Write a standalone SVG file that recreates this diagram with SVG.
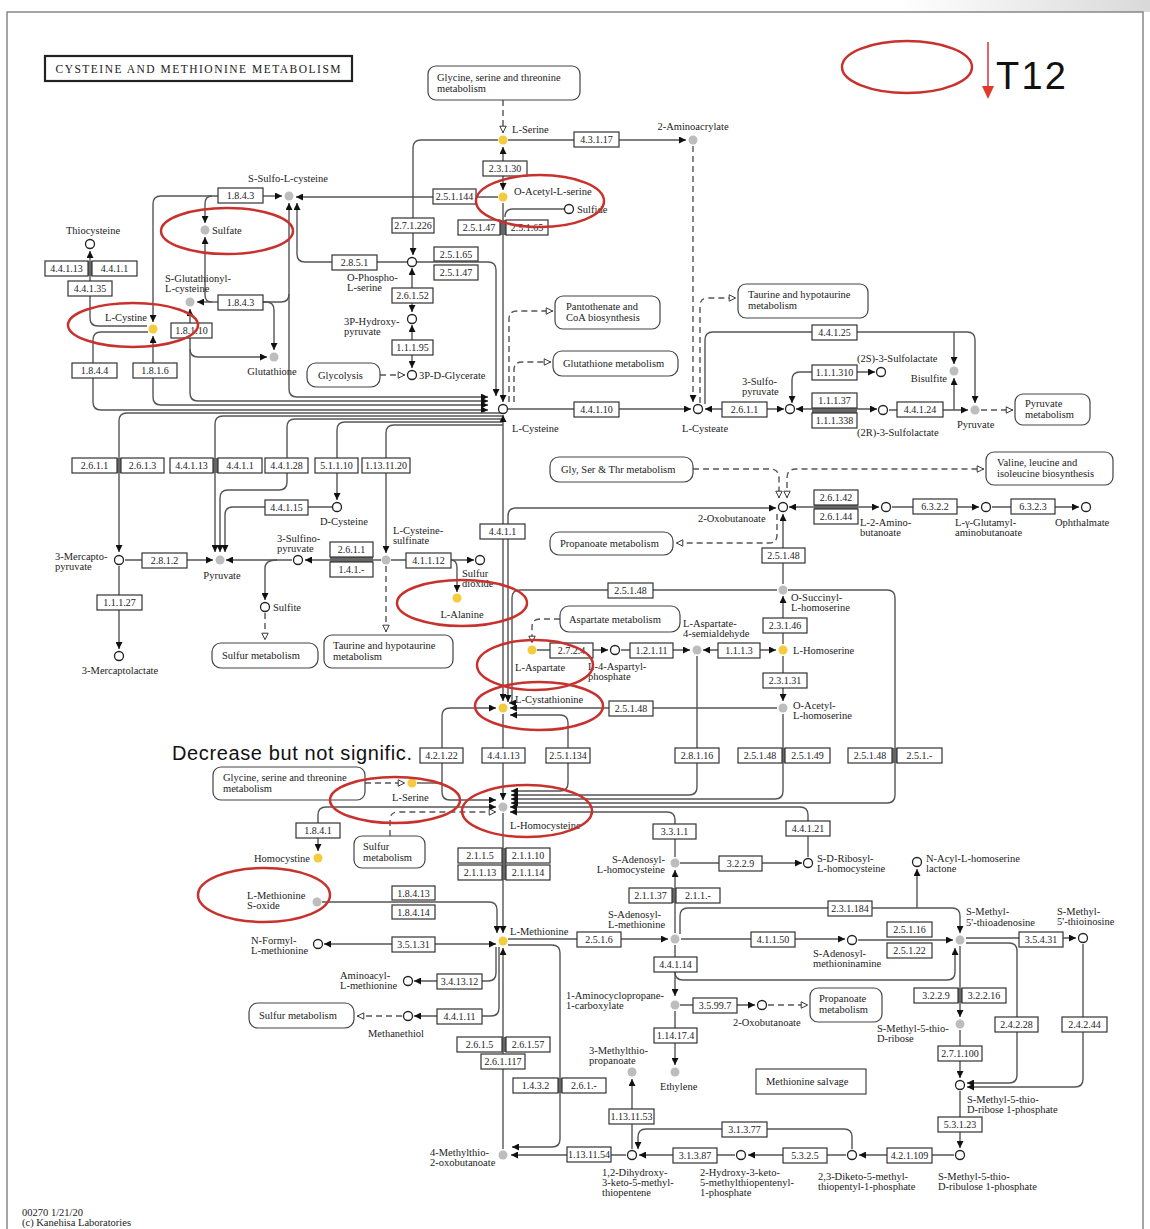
<svg xmlns="http://www.w3.org/2000/svg" width="1150" height="1229" viewBox="0 0 1150 1229">
<defs>
<marker id="a" viewBox="0 0 10 10" refX="10" refY="5" markerWidth="7" markerHeight="7" markerUnits="userSpaceOnUse" orient="auto-start-reverse"><path d="M0,0 L10,5 L0,10 z" fill="#111"/></marker>
<marker id="h" viewBox="0 0 10 10" refX="9.5" refY="5" markerWidth="8" markerHeight="8" markerUnits="userSpaceOnUse" orient="auto-start-reverse"><path d="M1,1 L9,5 L1,9 z" fill="#fff" stroke="#333" stroke-width="1.2"/></marker>
<linearGradient id="sh" x1="0" x2="1" y1="0" y2="0"><stop offset="0" stop-color="#fff"/><stop offset="1" stop-color="#d9d9d9"/></linearGradient>
<style>
.c path{fill:none;stroke:#555;stroke-width:1.4}
.c path.d{stroke-dasharray:6 4}
.ec rect{fill:#fff;stroke:#333;stroke-width:1.2}
.ec text{font-family:"Liberation Serif",serif;font-size:10px;fill:#222;text-anchor:middle}
.bar{fill:#666}
.t{font-family:"Liberation Serif",serif;font-size:10.5px;fill:#222}
.e{text-anchor:end}
.m{text-anchor:middle}
.map rect{fill:#fff;stroke:#444;stroke-width:1.2}
.map text{font-family:"Liberation Serif",serif;font-size:10.5px;fill:#222}
.y{fill:#f3cb3c}
.g{fill:#bdbdbd}
.o{fill:#fff;stroke:#222;stroke-width:1.3}
.re{fill:none;stroke:#c8322e;stroke-width:2.5}
</style>
</defs>
<rect x="0" y="0" width="1150" height="1229" fill="#fff"/>
<rect x="900" y="0" width="250" height="12" fill="url(#sh)"/>
<path d="M7,1229 V12 H1143 V1229" fill="none" stroke="#888" stroke-width="1.5"/>

<g id="title"><rect x="45" y="56" width="307" height="25" fill="#fff" stroke="#222" stroke-width="2.2"/><text x="198" y="73" font-family="Liberation Serif,serif" font-size="11.5" text-anchor="middle" textLength="285" fill="#222">CYSTEINE AND METHIONINE METABOLISM</text></g>

<g id="connectors" class="c">
<path class="d" d="M503,100 V133" marker-end="url(#h)"/>
<path d="M508,140 H686" marker-end="url(#a)"/>
<path d="M498,140 H421 Q413,140 413,148 V255" marker-end="url(#a)"/>
<path d="M503,147 V190" marker-start="url(#a)" marker-end="url(#a)"/>
<path d="M498,197 H296" marker-end="url(#a)"/>
<path d="M564,209 H513 Q505,209 505,217"/>
<path d="M503,203 V402" marker-end="url(#a)"/>
<path d="M417,262 H488 Q496,262 496,270 V396" marker-end="url(#a)"/>
<path d="M407,262 H305 Q297,262 297,254 V203" marker-end="url(#a)"/>
<path d="M412,268 V312" marker-start="url(#a)" marker-end="url(#a)"/>
<path d="M412,325 V368" marker-start="url(#a)" marker-end="url(#a)"/>
<path class="d" d="M380,375 H405" marker-end="url(#h)"/>
<path d="M289,203 V389 Q289,397 297,397 H488" marker-start="url(#a)" marker-end="url(#a)"/>
<path d="M263,302 H281 Q289,302 289,294"/>
<path d="M263,302 H266 Q274,302 274,310 V350" marker-end="url(#a)"/>
<path d="M218,302 H197" marker-end="url(#a)"/>
<path d="M212,302 Q205,302 205,295 V237" marker-end="url(#a)"/>
<path d="M263,196 H282" marker-end="url(#a)"/>
<path d="M218,196 H161 Q153,196 153,204 V322" marker-end="url(#a)"/>
<path d="M212,196 Q205,196 205,204 V223" marker-end="url(#a)"/>
<path d="M153,336 V397 Q153,405 161,405 H488" marker-start="url(#a)" marker-end="url(#a)"/>
<path d="M148,332 H101 Q93,332 93,340 V402 Q93,410 101,410 H488" marker-end="url(#a)"/>
<path d="M190,309 V393 Q190,401 198,401 H488" marker-start="url(#a)" marker-end="url(#a)"/>
<path d="M190,349 Q190,357 198,357 H267" marker-end="url(#a)"/>
<path d="M90,251 V318 Q90,326 98,326 H147" marker-start="url(#a)"/>
<path d="M503,413 H127 Q119,413 119,421 V552" marker-end="url(#a)"/>
<path d="M503,416 H223 Q215,416 215,424 V552" marker-end="url(#a)"/>
<path d="M503,419 H295 Q287,419 287,427 V482 Q287,490 279,490 H228 Q220,490 220,498 V552" marker-end="url(#a)"/>
<path d="M503,422 H345 Q337,422 337,430 V500" marker-end="url(#a)"/>
<path d="M503,425 H394 Q386,425 386,433 V553" marker-end="url(#a)"/>
<path d="M332,507 H233 Q225,507 225,515 V552" marker-end="url(#a)"/>
<path d="M125,560 H213" marker-end="url(#a)"/>
<path d="M292,560 H226" marker-end="url(#a)"/>
<path d="M381,560 H305" marker-end="url(#a)"/>
<path d="M277,560 Q265,560 265,568 V600" marker-end="url(#a)"/>
<path d="M119,566 V649" marker-end="url(#a)"/>
<path class="d" d="M265,613 V640" marker-end="url(#h)"/>
<path class="d" d="M386,566 V632" marker-end="url(#h)"/>
<path d="M391,560 H474" marker-end="url(#a)"/>
<path d="M451,560 Q457,560 457,568 V592" marker-end="url(#a)"/>
<path d="M508,409 H691" marker-end="url(#a)"/>
<path d="M784,409 H705" marker-start="url(#a)" marker-end="url(#a)"/>
<path class="d" d="M693,146 V402" marker-end="url(#a)"/>
<path class="d" d="M700,403 V306 Q700,298 708,298 H736" marker-end="url(#h)"/>
<path d="M705,404 V340 Q705,332 713,332 H967 Q975,332 975,340 V403" marker-end="url(#a)"/>
<path d="M954,332 V364" marker-end="url(#a)"/>
<path d="M792,403 V380 Q792,372 800,372 H875" marker-start="url(#a)" marker-end="url(#a)"/>
<path d="M796,409 H877" marker-start="url(#a)" marker-end="url(#a)"/>
<path d="M889,410 H968" marker-end="url(#a)"/>
<path d="M954,410 V378" marker-end="url(#a)"/>
<path class="d" d="M981,410 H1013" marker-end="url(#h)"/>
<path class="d" d="M509,402 V319 Q509,311 517,311 H553" marker-end="url(#h)"/>
<path class="d" d="M514,402 V370 Q514,362 522,362 H551" marker-end="url(#h)"/>
<path d="M503,415 V701" marker-start="url(#a)" marker-end="url(#a)"/>
<path d="M508,702 V516 Q508,508 516,508 H776" marker-start="url(#a)" marker-end="url(#a)"/>
<path d="M783,584 V514" marker-end="url(#a)"/>
<path d="M789,507 H879" marker-start="url(#a)" marker-end="url(#a)"/>
<path d="M892,507 H979" marker-end="url(#a)"/>
<path d="M992,507 H1079" marker-end="url(#a)"/>
<path class="d" d="M693,469 H770 Q779,469 779,478 V498" marker-end="url(#h)"/>
<path class="d" d="M787,498 V478 Q787,469 796,469 H984" marker-start="url(#h)" marker-end="url(#h)"/>
<path class="d" d="M777,514 V535 Q777,543 769,543 H676" marker-end="url(#h)"/>
<path d="M777,590 H520 Q512,590 512,598 V699 Q512,703 509,703" marker-end="url(#a)"/>
<path d="M788,590 H887 Q895,590 895,598 V795 Q895,803 887,803 H511" marker-end="url(#a)"/>
<path d="M777,708 H510" marker-end="url(#a)"/>
<path d="M783,714 V791 Q783,799 775,799 H511" marker-end="url(#a)"/>
<path d="M697,656 V787 Q697,795 689,795 H511" marker-end="url(#a)"/>
<path d="M510,715 H560 Q568,715 568,723 V783 Q568,791 560,791 H511" marker-start="url(#a)" marker-end="url(#a)"/>
<path d="M496,708 H450 Q442,708 442,716 V792 Q442,800 450,800 H496" marker-start="url(#a)" marker-end="url(#a)"/>
<path d="M417,783 H442"/>
<path class="d" d="M365,783 H405" marker-end="url(#h)"/>
<path d="M318,851 V815 Q318,807 326,807 H496" marker-start="url(#a)" marker-end="url(#a)"/>
<path class="d" d="M390,836 V820 Q390,812 398,812 H496" marker-end="url(#h)"/>
<path d="M503,714 V800" marker-end="url(#a)"/>
<path d="M510,812 H667 Q675,812 675,820 V857" marker-start="url(#a)"/>
<path d="M808,857 V815 Q808,807 800,807 H510" marker-end="url(#a)"/>
<path d="M680,863 H802" marker-end="url(#a)"/>
<path d="M675,933 V870" marker-end="url(#a)"/>
<path d="M503,813 V933" marker-end="url(#a)"/>
<path d="M322,902 H489 Q497,902 497,910 V933" marker-end="url(#a)"/>
<path d="M324,944 H496" marker-start="url(#a)" marker-end="url(#a)"/>
<path d="M496,947 V973 Q496,981 488,981 H414" marker-end="url(#a)"/>
<path d="M499,947 V1008 Q499,1016 491,1016 H414" marker-end="url(#a)"/>
<path class="d" d="M402,1016 H357" marker-end="url(#h)"/>
<path d="M503,1149 V948" marker-end="url(#a)"/>
<path d="M508,945 H552 Q560,945 560,953 V1139 Q560,1147 552,1147 H512" marker-end="url(#a)"/>
<path d="M626,1155 H511" marker-end="url(#a)"/>
<path d="M632,1149 V1079" marker-end="url(#a)"/>
<path d="M735,1155 H639" marker-end="url(#a)"/>
<path d="M846,1155 H748" marker-end="url(#a)"/>
<path d="M852,1149 V1137 Q852,1129 844,1129 H646 Q638,1129 638,1137 V1149" marker-end="url(#a)"/>
<path d="M954,1155 H859" marker-end="url(#a)"/>
<path d="M960,1091 V1148" marker-end="url(#a)"/>
<path d="M960,1030 V1078" marker-end="url(#a)"/>
<path d="M960,946 V1017" marker-end="url(#a)"/>
<path d="M966,943 H1009 Q1017,943 1017,951 V1075 Q1017,1083 1009,1083 H967" marker-end="url(#a)"/>
<path d="M1083,944 V1079 Q1083,1087 1075,1087 H967" marker-end="url(#a)"/>
<path d="M966,938 H1076" marker-end="url(#a)"/>
<path d="M680,934 V916 Q680,908 688,908 H952 Q960,908 960,916 V933" marker-end="url(#a)"/>
<path d="M917,908 V869" marker-end="url(#a)"/>
<path d="M508,939 H668" marker-end="url(#a)"/>
<path d="M681,939 H845" marker-end="url(#a)"/>
<path d="M675,972 Q675,980 683,980 H947 Q955,980 955,972 V948" marker-end="url(#a)"/>
<path d="M858,940 H953" marker-end="url(#a)"/>
<path d="M675,945 V996" marker-end="url(#a)"/>
<path d="M680,1005 H755" marker-end="url(#a)"/>
<path class="d" d="M768,1005 H808" marker-end="url(#h)"/>
<path d="M675,1011 V1065" marker-end="url(#a)"/>
<path class="d" d="M560,619 H540 Q532,619 532,627 V643" marker-end="url(#h)"/>
<path d="M537,650 H608" marker-end="url(#a)"/>
<path d="M621,650 H690" marker-end="url(#a)"/>
<path d="M703,650 H776" marker-start="url(#a)" marker-end="url(#a)"/>
<path d="M783,644 V596" marker-end="url(#a)"/>
<path d="M783,656 V701" marker-end="url(#a)"/>
</g>

<g id="bars">
<rect class="bar" x="88" y="261" width="4" height="15"/>
<rect class="bar" x="500" y="220" width="6" height="15"/>
<rect class="bar" x="117" y="458" width="4" height="15"/>
<rect class="bar" x="213" y="458" width="5" height="15"/>
<rect class="bar" x="814" y="505" width="44" height="4"/>
<rect class="bar" x="812" y="408" width="45" height="5"/>
<rect class="bar" x="330" y="557" width="43" height="5"/>
<rect class="bar" x="502" y="848" width="4" height="32"/>
<rect class="bar" x="502" y="1037" width="4" height="15"/>
<rect class="bar" x="558" y="1078" width="4" height="15"/>
<rect class="bar" x="958" y="988" width="4" height="15"/>
<rect class="bar" x="782" y="748" width="3" height="15"/>
<rect class="bar" x="892" y="748" width="5" height="15"/>
<rect class="bar" x="672" y="888" width="4" height="15"/>
</g>

<g id="enzymes">
<g id="e1" class="ec"><rect x="218" y="188" width="45" height="15"/><text x="240.5" y="199">1.8.4.3</text></g>
<g id="e2" class="ec"><rect x="218" y="295" width="45" height="15"/><text x="240.5" y="306">1.8.4.3</text></g>
<g id="e3" class="ec"><rect x="45" y="261" width="43" height="15"/><text x="66.5" y="272">4.4.1.13</text></g>
<g id="e4" class="ec"><rect x="92" y="261" width="45" height="15"/><text x="114.5" y="272">4.4.1.1</text></g>
<g id="e5" class="ec"><rect x="68" y="281" width="44" height="15"/><text x="90" y="292">4.4.1.35</text></g>
<g id="e6" class="ec"><rect x="332" y="255" width="45" height="15"/><text x="354.5" y="266">2.8.5.1</text></g>
<g id="e7" class="ec"><rect x="392" y="218" width="42" height="15"/><text x="413" y="229">2.7.1.226</text></g>
<g id="e8" class="ec"><rect x="483" y="161" width="44" height="15"/><text x="505" y="172">2.3.1.30</text></g>
<g id="e9" class="ec"><rect x="433" y="189" width="43" height="15"/><text x="454.5" y="200">2.5.1.144</text></g>
<g id="e10" class="ec"><rect x="458" y="220" width="42" height="15"/><text x="479" y="231">2.5.1.47</text></g>
<g id="e11" class="ec"><rect x="506" y="220" width="42" height="15"/><text x="527" y="231">2.5.1.65</text></g>
<g id="e12" class="ec"><rect x="434" y="247" width="44" height="14"/><text x="456" y="258">2.5.1.65</text></g>
<g id="e13" class="ec"><rect x="434" y="265" width="44" height="15"/><text x="456" y="276">2.5.1.47</text></g>
<g id="e14" class="ec"><rect x="392" y="288" width="41" height="15"/><text x="412.5" y="299">2.6.1.52</text></g>
<g id="e15" class="ec"><rect x="574" y="132" width="45" height="15"/><text x="596.5" y="143">4.3.1.17</text></g>
<g id="e16" class="ec"><rect x="392" y="340" width="41" height="15"/><text x="412.5" y="351">1.1.1.95</text></g>
<g id="e17" class="ec"><rect x="171" y="323" width="41" height="15"/><text x="191.5" y="334">1.8.1.10</text></g>
<g id="e18" class="ec"><rect x="72" y="363" width="45" height="15"/><text x="94.5" y="374">1.8.4.4</text></g>
<g id="e19" class="ec"><rect x="133" y="363" width="44" height="15"/><text x="155" y="374">1.8.1.6</text></g>
<g id="e20" class="ec"><rect x="574" y="402" width="45" height="15"/><text x="596.5" y="413">4.4.1.10</text></g>
<g id="e21" class="ec"><rect x="722" y="402" width="45" height="15"/><text x="744.5" y="413">2.6.1.1</text></g>
<g id="e22" class="ec"><rect x="812" y="325" width="45" height="15"/><text x="834.5" y="336">4.4.1.25</text></g>
<g id="e23" class="ec"><rect x="812" y="365" width="45" height="15"/><text x="834.5" y="376">1.1.1.310</text></g>
<g id="e24" class="ec"><rect x="812" y="393" width="45" height="15"/><text x="834.5" y="404">1.1.1.37</text></g>
<g id="e25" class="ec"><rect x="812" y="413" width="45" height="15"/><text x="834.5" y="424">1.1.1.338</text></g>
<g id="e26" class="ec"><rect x="897" y="402" width="46" height="15"/><text x="920" y="413">4.4.1.24</text></g>
<g id="e27" class="ec"><rect x="72" y="458" width="45" height="15"/><text x="94.5" y="469">2.6.1.1</text></g>
<g id="e28" class="ec"><rect x="121" y="458" width="43" height="15"/><text x="142.5" y="469">2.6.1.3</text></g>
<g id="e29" class="ec"><rect x="170" y="458" width="43" height="15"/><text x="191.5" y="469">4.4.1.13</text></g>
<g id="e30" class="ec"><rect x="218" y="458" width="44" height="15"/><text x="240" y="469">4.4.1.1</text></g>
<g id="e31" class="ec"><rect x="265" y="458" width="43" height="15"/><text x="286.5" y="469">4.4.1.28</text></g>
<g id="e32" class="ec"><rect x="315" y="458" width="43" height="15"/><text x="336.5" y="469">5.1.1.10</text></g>
<g id="e33" class="ec"><rect x="362" y="458" width="48" height="15"/><text x="386" y="469">1.13.11.20</text></g>
<g id="e34" class="ec"><rect x="265" y="500" width="43" height="15"/><text x="286.5" y="511">4.4.1.15</text></g>
<g id="e35" class="ec"><rect x="142" y="553" width="45" height="15"/><text x="164.5" y="564">2.8.1.2</text></g>
<g id="e36" class="ec"><rect x="330" y="542" width="43" height="15"/><text x="351.5" y="553">2.6.1.1</text></g>
<g id="e37" class="ec"><rect x="330" y="562" width="43" height="15"/><text x="351.5" y="573">1.4.1.-</text></g>
<g id="e38" class="ec"><rect x="97" y="595" width="45" height="15"/><text x="119.5" y="606">1.1.1.27</text></g>
<g id="e39" class="ec"><rect x="406" y="553" width="45" height="15"/><text x="428.5" y="564">4.1.1.12</text></g>
<g id="e40" class="ec"><rect x="480" y="524" width="45" height="15"/><text x="502.5" y="535">4.4.1.1</text></g>
<g id="e41" class="ec"><rect x="814" y="490" width="44" height="15"/><text x="836" y="501">2.6.1.42</text></g>
<g id="e42" class="ec"><rect x="814" y="509" width="44" height="15"/><text x="836" y="520">2.6.1.44</text></g>
<g id="e43" class="ec"><rect x="913" y="499" width="44" height="15"/><text x="935" y="510">6.3.2.2</text></g>
<g id="e44" class="ec"><rect x="1011" y="499" width="44" height="15"/><text x="1033" y="510">6.3.2.3</text></g>
<g id="e45" class="ec"><rect x="762" y="548" width="43" height="15"/><text x="783.5" y="559">2.5.1.48</text></g>
<g id="e46" class="ec"><rect x="608" y="583" width="45" height="15"/><text x="630.5" y="594">2.5.1.48</text></g>
<g id="e47" class="ec"><rect x="763" y="618" width="44" height="15"/><text x="785" y="629">2.3.1.46</text></g>
<g id="e48" class="ec"><rect x="550" y="643" width="43" height="15"/><text x="571.5" y="654">2.7.2.4</text></g>
<g id="e49" class="ec"><rect x="630" y="643" width="43" height="15"/><text x="651.5" y="654">1.2.1.11</text></g>
<g id="e50" class="ec"><rect x="718" y="643" width="42" height="15"/><text x="739" y="654">1.1.1.3</text></g>
<g id="e51" class="ec"><rect x="763" y="673" width="44" height="15"/><text x="785" y="684">2.3.1.31</text></g>
<g id="e52" class="ec"><rect x="609" y="701" width="44" height="15"/><text x="631" y="712">2.5.1.48</text></g>
<g id="e53" class="ec"><rect x="420" y="748" width="43" height="15"/><text x="441.5" y="759">4.2.1.22</text></g>
<g id="e54" class="ec"><rect x="482" y="748" width="43" height="15"/><text x="503.5" y="759">4.4.1.13</text></g>
<g id="e55" class="ec"><rect x="546" y="748" width="44" height="15"/><text x="568" y="759">2.5.1.134</text></g>
<g id="e56" class="ec"><rect x="675" y="748" width="44" height="15"/><text x="697" y="759">2.8.1.16</text></g>
<g id="e57" class="ec"><rect x="738" y="748" width="44" height="15"/><text x="760" y="759">2.5.1.48</text></g>
<g id="e58" class="ec"><rect x="785" y="748" width="45" height="15"/><text x="807.5" y="759">2.5.1.49</text></g>
<g id="e59" class="ec"><rect x="848" y="748" width="44" height="15"/><text x="870" y="759">2.5.1.48</text></g>
<g id="e60" class="ec"><rect x="897" y="748" width="45" height="15"/><text x="919.5" y="759">2.5.1.-</text></g>
<g id="e61" class="ec"><rect x="296" y="823" width="44" height="15"/><text x="318" y="834">1.8.4.1</text></g>
<g id="e62" class="ec"><rect x="653" y="824" width="43" height="15"/><text x="674.5" y="835">3.3.1.1</text></g>
<g id="e63" class="ec"><rect x="786" y="821" width="44" height="15"/><text x="808" y="832">4.4.1.21</text></g>
<g id="e64" class="ec"><rect x="458" y="848" width="44" height="15"/><text x="480" y="859">2.1.1.5</text></g>
<g id="e65" class="ec"><rect x="506" y="848" width="44" height="15"/><text x="528" y="859">2.1.1.10</text></g>
<g id="e66" class="ec"><rect x="458" y="865" width="44" height="15"/><text x="480" y="876">2.1.1.13</text></g>
<g id="e67" class="ec"><rect x="506" y="865" width="44" height="15"/><text x="528" y="876">2.1.1.14</text></g>
<g id="e68" class="ec"><rect x="719" y="856" width="43" height="15"/><text x="740.5" y="867">3.2.2.9</text></g>
<g id="e69" class="ec"><rect x="392" y="886" width="43" height="14"/><text x="413.5" y="897">1.8.4.13</text></g>
<g id="e70" class="ec"><rect x="392" y="905" width="43" height="14"/><text x="413.5" y="916">1.8.4.14</text></g>
<g id="e71" class="ec"><rect x="629" y="888" width="43" height="15"/><text x="650.5" y="899">2.1.1.37</text></g>
<g id="e72" class="ec"><rect x="676" y="888" width="44" height="15"/><text x="698" y="899">2.1.1.-</text></g>
<g id="e73" class="ec"><rect x="828" y="901" width="44" height="15"/><text x="850" y="912">2.3.1.184</text></g>
<g id="e74" class="ec"><rect x="392" y="937" width="43" height="15"/><text x="413.5" y="948">3.5.1.31</text></g>
<g id="e75" class="ec"><rect x="577" y="932" width="44" height="15"/><text x="599" y="943">2.5.1.6</text></g>
<g id="e76" class="ec"><rect x="751" y="932" width="44" height="15"/><text x="773" y="943">4.1.1.50</text></g>
<g id="e77" class="ec"><rect x="887" y="922" width="45" height="15"/><text x="909.5" y="933">2.5.1.16</text></g>
<g id="e78" class="ec"><rect x="887" y="943" width="45" height="15"/><text x="909.5" y="954">2.5.1.22</text></g>
<g id="e79" class="ec"><rect x="1019" y="932" width="44" height="15"/><text x="1041" y="943">3.5.4.31</text></g>
<g id="e80" class="ec"><rect x="654" y="957" width="43" height="15"/><text x="675.5" y="968">4.4.1.14</text></g>
<g id="e81" class="ec"><rect x="437" y="974" width="45" height="15"/><text x="459.5" y="985">3.4.13.12</text></g>
<g id="e82" class="ec"><rect x="693" y="998" width="44" height="15"/><text x="715" y="1009">3.5.99.7</text></g>
<g id="e83" class="ec"><rect x="914" y="988" width="44" height="15"/><text x="936" y="999">3.2.2.9</text></g>
<g id="e84" class="ec"><rect x="962" y="988" width="44" height="15"/><text x="984" y="999">3.2.2.16</text></g>
<g id="e85" class="ec"><rect x="437" y="1009" width="45" height="15"/><text x="459.5" y="1020">4.4.1.11</text></g>
<g id="e86" class="ec"><rect x="995" y="1017" width="43" height="15"/><text x="1016.5" y="1028">2.4.2.28</text></g>
<g id="e87" class="ec"><rect x="1062" y="1017" width="45" height="15"/><text x="1084.5" y="1028">2.4.2.44</text></g>
<g id="e88" class="ec"><rect x="654" y="1028" width="43" height="15"/><text x="675.5" y="1039">1.14.17.4</text></g>
<g id="e89" class="ec"><rect x="457" y="1037" width="45" height="15"/><text x="479.5" y="1048">2.6.1.5</text></g>
<g id="e90" class="ec"><rect x="506" y="1037" width="44" height="15"/><text x="528" y="1048">2.6.1.57</text></g>
<g id="e91" class="ec"><rect x="481" y="1054" width="44" height="15"/><text x="503" y="1065">2.6.1.117</text></g>
<g id="e92" class="ec"><rect x="938" y="1046" width="44" height="15"/><text x="960" y="1057">2.7.1.100</text></g>
<g id="e93" class="ec"><rect x="513" y="1078" width="45" height="15"/><text x="535.5" y="1089">1.4.3.2</text></g>
<g id="e94" class="ec"><rect x="562" y="1078" width="44" height="15"/><text x="584" y="1089">2.6.1.-</text></g>
<g id="e95" class="ec"><rect x="609" y="1109" width="45" height="15"/><text x="631.5" y="1120">1.13.11.53</text></g>
<g id="e96" class="ec"><rect x="722" y="1122" width="45" height="15"/><text x="744.5" y="1133">3.1.3.77</text></g>
<g id="e97" class="ec"><rect x="938" y="1117" width="44" height="15"/><text x="960" y="1128">5.3.1.23</text></g>
<g id="e98" class="ec"><rect x="567" y="1147" width="44" height="15"/><text x="589" y="1158">1.13.11.54</text></g>
<g id="e99" class="ec"><rect x="673" y="1148" width="44" height="15"/><text x="695" y="1159">3.1.3.87</text></g>
<g id="e100" class="ec"><rect x="783" y="1148" width="44" height="15"/><text x="805" y="1159">5.3.2.5</text></g>
<g id="e101" class="ec"><rect x="887" y="1148" width="45" height="15"/><text x="909.5" y="1159">4.2.1.109</text></g>
</g>

<g id="maps">
<g id="m1" class="map"><rect x="428" y="66" width="152" height="34" rx="8"/><text x="437" y="81">Glycine, serine and threonine</text><text x="437" y="92">metabolism</text></g>
<g id="m2" class="map"><rect x="555" y="296" width="105" height="33" rx="8"/><text x="566" y="310">Pantothenate and</text><text x="566" y="321">CoA biosynthesis</text></g>
<g id="m3" class="map"><rect x="738" y="284" width="130" height="34" rx="8"/><text x="748" y="298">Taurine and hypotaurine</text><text x="748" y="309">metabolism</text></g>
<g id="m4" class="map"><rect x="553" y="351" width="125" height="25" rx="9"/><text x="563" y="367">Glutathione metabolism</text></g>
<g id="m5" class="map"><rect x="307" y="363" width="73" height="24" rx="9"/><text x="318" y="379">Glycolysis</text></g>
<g id="m6" class="map"><rect x="1015" y="394" width="75" height="31" rx="8"/><text x="1025" y="407">Pyruvate</text><text x="1025" y="418">metabolism</text></g>
<g id="m7" class="map"><rect x="550" y="457" width="143" height="25" rx="9"/><text x="561" y="473">Gly, Ser &amp; Thr metabolism</text></g>
<g id="m8" class="map"><rect x="986" y="452" width="127" height="33" rx="8"/><text x="997" y="466">Valine, leucine and</text><text x="997" y="477">isoleucine biosynthesis</text></g>
<g id="m9" class="map"><rect x="550" y="532" width="123" height="23" rx="9"/><text x="560" y="547">Propanoate metabolism</text></g>
<g id="m10" class="map"><rect x="212" y="643" width="106" height="25" rx="9"/><text x="222" y="659">Sulfur metabolism</text></g>
<g id="m11" class="map"><rect x="324" y="635" width="129" height="33" rx="8"/><text x="333" y="649">Taurine and hypotaurine</text><text x="333" y="660">metabolism</text></g>
<g id="m12" class="map"><rect x="560" y="606" width="120" height="26" rx="9"/><text x="569" y="623">Aspartate metabolism</text></g>
<g id="m13" class="map"><rect x="213" y="767" width="152" height="33" rx="8"/><text x="223" y="781">Glycine, serine and threonine</text><text x="223" y="792">metabolism</text></g>
<g id="m14" class="map"><rect x="354" y="836" width="71" height="32" rx="8"/><text x="363" y="850">Sulfur</text><text x="363" y="861">metabolism</text></g>
<g id="m15" class="map"><rect x="249" y="1003" width="105" height="25" rx="9"/><text x="259" y="1019">Sulfur metabolism</text></g>
<g id="m16" class="map"><rect x="810" y="988" width="72" height="34" rx="8"/><text x="819" y="1002">Propanoate</text><text x="819" y="1013">metabolism</text></g>
<g id="m17" class="map"><rect x="756" y="1069" width="110" height="25" rx="0"/><text x="766" y="1085">Methionine  salvage</text></g>
</g>

<g id="compounds">
<g id="c1"><circle class="g" cx="289" cy="196" r="4.5"/><text class="t m" x="288" y="182">S-Sulfo-L-cysteine</text></g>
<g id="c2"><circle class="g" cx="205" cy="230" r="4.5"/><text class="t" x="212" y="234">Sulfate</text></g>
<g id="c3"><circle class="o" cx="90" cy="244" r="4.5"/><text class="t m" x="93" y="234">Thiocysteine</text></g>
<g id="c4"><circle class="g" cx="190" cy="302" r="4.5"/><text class="t" x="165" y="282">S-Glutathionyl-</text><text class="t" x="165" y="292">L-cysteine</text></g>
<g id="c5"><circle class="y" cx="153" cy="329" r="4.5"/><text class="t e" x="147" y="321">L-Cystine</text></g>
<g id="c6"><circle class="g" cx="274" cy="357" r="4.5"/><text class="t m" x="272" y="375">Glutathione</text></g>
<g id="c7"><circle class="y" cx="503" cy="140" r="4.5"/><text class="t" x="512" y="133">L-Serine</text></g>
<g id="c8"><circle class="g" cx="693" cy="140" r="4.5"/><text class="t m" x="693" y="130">2-Aminoacrylate</text></g>
<g id="c9"><circle class="y" cx="503" cy="197" r="4.5"/><text class="t" x="514" y="195">O-Acetyl-L-serine</text></g>
<g id="c10"><circle class="o" cx="569" cy="209" r="4.5"/><text class="t" x="577" y="213">Sulfide</text></g>
<g id="c11"><circle class="o" cx="412" cy="262" r="4.5"/><text class="t" x="347" y="281">O-Phospho-</text><text class="t" x="347" y="291">L-serine</text></g>
<g id="c12"><circle class="o" cx="412" cy="319" r="4.5"/><text class="t" x="344" y="325">3P-Hydroxy-</text><text class="t" x="344" y="335">pyruvate</text></g>
<g id="c13"><circle class="o" cx="412" cy="375" r="4.5"/><text class="t" x="419" y="379">3P-D-Glycerate</text></g>
<g id="c14"><circle class="o" cx="503" cy="409" r="4.5"/><text class="t" x="512" y="432">L-Cysteine</text></g>
<g id="c15"><circle class="o" cx="698" cy="409" r="4.5"/><text class="t" x="682" y="432">L-Cysteate</text></g>
<g id="c16"><circle class="o" cx="790" cy="409" r="4.5"/><text class="t" x="742" y="385">3-Sulfo-</text><text class="t" x="742" y="395">pyruvate</text></g>
<g id="c17"><circle class="o" cx="881" cy="372" r="4.5"/><text class="t" x="857" y="362">(2S)-3-Sulfolactate</text></g>
<g id="c18"><circle class="g" cx="954" cy="371" r="4.5"/><text class="t e" x="947" y="382">Bisulfite</text></g>
<g id="c19"><circle class="o" cx="883" cy="410" r="4.5"/><text class="t" x="857" y="436">(2R)-3-Sulfolactate</text></g>
<g id="c20"><circle class="g" cx="975" cy="410" r="4.5"/><text class="t" x="957" y="428">Pyruvate</text></g>
<g id="c21"><circle class="o" cx="119" cy="560" r="4.5"/><text class="t" x="55" y="560">3-Mercapto-</text><text class="t" x="55" y="570">pyruvate</text></g>
<g id="c22"><circle class="g" cx="220" cy="560" r="4.5"/><text class="t m" x="222" y="579">Pyruvate</text></g>
<g id="c23"><circle class="o" cx="337" cy="507" r="4.5"/><text class="t" x="320" y="525">D-Cysteine</text></g>
<g id="c24"><circle class="o" cx="298" cy="560" r="4.5"/><text class="t" x="277" y="542">3-Sulfino-</text><text class="t" x="277" y="552">pyruvate</text></g>
<g id="c25"><circle class="g" cx="386" cy="560" r="4.5"/><text class="t" x="393" y="534">L-Cysteine-</text><text class="t" x="393" y="544">sulfinate</text></g>
<g id="c26"><circle class="o" cx="480" cy="560" r="4.5"/><text class="t" x="462" y="577">Sulfur</text><text class="t" x="462" y="587">dioxide</text></g>
<g id="c27"><circle class="y" cx="457" cy="598" r="4.5"/><text class="t m" x="462" y="618">L-Alanine</text></g>
<g id="c28"><circle class="o" cx="265" cy="607" r="4.5"/><text class="t" x="273" y="611">Sulfite</text></g>
<g id="c29"><circle class="o" cx="119" cy="656" r="4.5"/><text class="t m" x="120" y="674">3-Mercaptolactate</text></g>
<g id="c30"><circle class="o" cx="783" cy="507" r="4.5"/><text class="t" x="698" y="522">2-Oxobutanoate</text></g>
<g id="c31"><circle class="o" cx="886" cy="507" r="4.5"/><text class="t" x="860" y="526">L-2-Amino-</text><text class="t" x="860" y="536">butanoate</text></g>
<g id="c32"><circle class="o" cx="986" cy="507" r="4.5"/><text class="t" x="955" y="526">L-γ-Glutamyl-</text><text class="t" x="955" y="536">aminobutanoate</text></g>
<g id="c33"><circle class="o" cx="1086" cy="507" r="4.5"/><text class="t" x="1055" y="526">Ophthalmate</text></g>
<g id="c34"><circle class="g" cx="783" cy="590" r="4.5"/><text class="t" x="791" y="601">O-Succinyl-</text><text class="t" x="791" y="611">L-homoserine</text></g>
<g id="c35"><circle class="y" cx="532" cy="650" r="4.5"/><text class="t" x="515" y="671">L-Aspartate</text></g>
<g id="c36"><circle class="o" cx="615" cy="650" r="4.5"/><text class="t" x="588" y="670">L-4-Aspartyl-</text><text class="t" x="588" y="680">phosphate</text></g>
<g id="c37"><circle class="g" cx="697" cy="650" r="4.5"/><text class="t" x="683" y="627">L-Aspartate-</text><text class="t" x="683" y="637">4-semialdehyde</text></g>
<g id="c38"><circle class="y" cx="783" cy="650" r="4.5"/><text class="t" x="793" y="654">L-Homoserine</text></g>
<g id="c39"><circle class="g" cx="783" cy="708" r="4.5"/><text class="t" x="793" y="709">O-Acetyl-</text><text class="t" x="793" y="719">L-homoserine</text></g>
<g id="c40"><circle class="y" cx="503" cy="708" r="4.5"/><text class="t" x="515" y="703">L-Cystathionine</text></g>
<g id="c41"><circle class="y" cx="412" cy="783" r="4.5"/><text class="t" x="392" y="801">L-Serine</text></g>
<g id="c42"><circle class="g" cx="503" cy="807" r="4.5"/><text class="t" x="510" y="829">L-Homocysteine</text></g>
<g id="c43"><circle class="y" cx="318" cy="858" r="4.5"/><text class="t e" x="310" y="862">Homocystine</text></g>
<g id="c44"><circle class="g" cx="317" cy="902" r="4.5"/><text class="t" x="247" y="899">L-Methionine</text><text class="t" x="247" y="909">S-oxide</text></g>
<g id="c45"><circle class="g" cx="675" cy="863" r="4.5"/><text class="t e" x="665" y="863">S-Adenosyl-</text><text class="t e" x="665" y="873">L-homocysteine</text></g>
<g id="c46"><circle class="o" cx="808" cy="863" r="4.5"/><text class="t" x="817" y="862">S-D-Ribosyl-</text><text class="t" x="817" y="872">L-homocysteine</text></g>
<g id="c47"><circle class="o" cx="917" cy="862" r="4.5"/><text class="t" x="926" y="862">N-Acyl-L-homoserine</text><text class="t" x="926" y="872">lactone</text></g>
<g id="c48"><circle class="y" cx="503" cy="941" r="4.5"/><text class="t" x="510" y="935">L-Methionine</text></g>
<g id="c49"><circle class="o" cx="318" cy="944" r="4.5"/><text class="t" x="251" y="944">N-Formyl-</text><text class="t" x="251" y="954">L-methionine</text></g>
<g id="c50"><circle class="o" cx="408" cy="981" r="4.5"/><text class="t" x="340" y="979">Aminoacyl-</text><text class="t" x="340" y="989">L-methionine</text></g>
<g id="c51"><circle class="o" cx="408" cy="1016" r="4.5"/><text class="t" x="368" y="1037">Methanethiol</text></g>
<g id="c52"><circle class="g" cx="675" cy="939" r="4.5"/><text class="t" x="608" y="918">S-Adenosyl-</text><text class="t" x="608" y="928">L-methionine</text></g>
<g id="c53"><circle class="o" cx="852" cy="940" r="4.5"/><text class="t" x="813" y="957">S-Adenosyl-</text><text class="t" x="813" y="967">methioninamine</text></g>
<g id="c54"><circle class="g" cx="960" cy="940" r="4.5"/><text class="t" x="966" y="915">S-Methyl-</text><text class="t" x="966" y="926">5'-thioadenosine</text></g>
<g id="c55"><circle class="o" cx="1083" cy="938" r="4.5"/><text class="t" x="1057" y="915">S-Methyl-</text><text class="t" x="1057" y="925">5'-thioinosine</text></g>
<g id="c56"><circle class="g" cx="675" cy="1005" r="4.5"/><text class="t" x="566" y="999">1-Aminocyclopropane-</text><text class="t" x="566" y="1009">1-carboxylate</text></g>
<g id="c57"><circle class="o" cx="762" cy="1005" r="4.5"/><text class="t" x="733" y="1026">2-Oxobutanoate</text></g>
<g id="c58"><circle class="g" cx="675" cy="1072" r="4.5"/><text class="t" x="660" y="1090">Ethylene</text></g>
<g id="c59"><circle class="g" cx="632" cy="1072" r="4.5"/><text class="t" x="589" y="1054">3-Methylthio-</text><text class="t" x="589" y="1064">propanoate</text></g>
<g id="c60"><circle class="g" cx="960" cy="1024" r="4.5"/><text class="t" x="877" y="1032">S-Methyl-5-thio-</text><text class="t" x="877" y="1042">D-ribose</text></g>
<g id="c61"><circle class="o" cx="960" cy="1085" r="4.5"/><text class="t" x="967" y="1103">S-Methyl-5-thio-</text><text class="t" x="967" y="1113">D-ribose 1-phosphate</text></g>
<g id="c62"><circle class="g" cx="503" cy="1155" r="4.5"/><text class="t" x="430" y="1156">4-Methylthio-</text><text class="t" x="430" y="1166">2-oxobutanoate</text></g>
<g id="c63"><circle class="o" cx="632" cy="1155" r="4.5"/><text class="t" x="602" y="1176">1,2-Dihydroxy-</text><text class="t" x="602" y="1186">3-keto-5-methyl-</text><text class="t" x="602" y="1196">thiopentene</text></g>
<g id="c64"><circle class="o" cx="741" cy="1155" r="4.5"/><text class="t" x="700" y="1176">2-Hydroxy-3-keto-</text><text class="t" x="700" y="1186">5-methylthiopentenyl-</text><text class="t" x="700" y="1196">1-phosphate</text></g>
<g id="c65"><circle class="o" cx="852" cy="1155" r="4.5"/><text class="t" x="818" y="1180">2,3-Diketo-5-methyl-</text><text class="t" x="818" y="1190">thiopentyl-1-phosphate</text></g>
<g id="c66"><circle class="o" cx="960" cy="1155" r="4.5"/><text class="t" x="938" y="1180">S-Methyl-5-thio-</text><text class="t" x="938" y="1190">D-ribulose 1-phosphate</text></g>
</g>

<g id="highlights">
<ellipse class="re" cx="227" cy="231" rx="66" ry="23"/>
<ellipse class="re" cx="540" cy="201" rx="64" ry="26"/>
<ellipse class="re" cx="133" cy="325" rx="65" ry="22"/>
<ellipse class="re" cx="462" cy="603" rx="65" ry="23"/>
<ellipse class="re" cx="535" cy="665" rx="58" ry="25"/>
<ellipse class="re" cx="539" cy="706" rx="64" ry="24"/>
<ellipse class="re" cx="395" cy="800" rx="65" ry="23"/>
<ellipse class="re" cx="527" cy="811" rx="65" ry="26"/>
<ellipse class="re" cx="264" cy="895" rx="66" ry="27"/>
</g>

<g id="legend">
<ellipse class="re" cx="907" cy="67" rx="65" ry="26"/>
<line x1="988" y1="42" x2="988" y2="88" stroke="#d33" stroke-width="1.5"/>
<polygon points="982,86 994,86 988,99" fill="#e23a2a"/>
<text x="996" y="89" font-family="Liberation Sans,Arial,sans-serif" font-size="38" textLength="70" fill="#111">T12</text>
</g>

<text x="172" y="760" font-family="Liberation Sans,Arial,sans-serif" font-size="20" textLength="240" fill="#111">Decrease but not signific.</text>

<g id="footer">
<text class="t" x="22" y="1216">00270 1/21/20</text>
<text class="t" x="22" y="1226">(c) Kanehisa Laboratories</text>
</g>
</svg>
